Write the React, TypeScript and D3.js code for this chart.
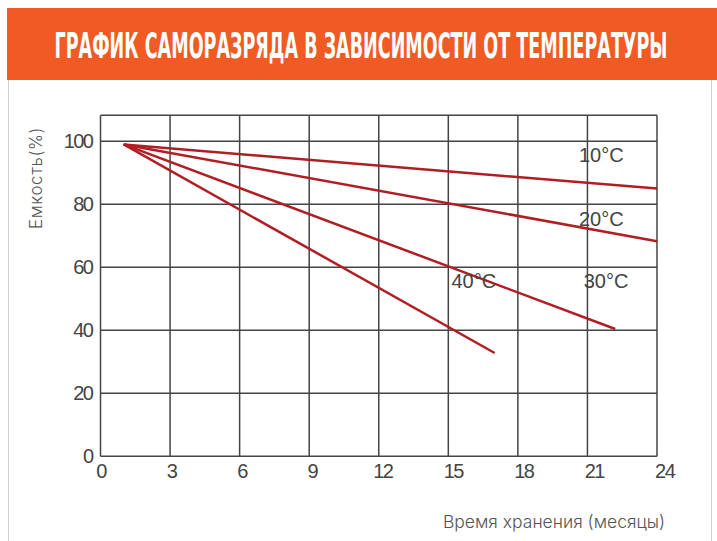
import React, { useEffect, useRef } from 'react';
import * as d3 from 'd3';

const title = 'ГРАФИК САМОРАЗРЯДА В ЗАВИСИМОСТИ ОТ ТЕМПЕРАТУРЫ';
const yTitle = 'Емкость(%)';
const xTitle = 'Время хранения (месяцы)';

const xTicks = [0, 3, 6, 9, 12, 15, 18, 21, 24];
const yTicks = [0, 20, 40, 60, 80, 100];

const series10 = [[1, 99], [24, 85]];
const series20 = [[1, 99], [24, 68.3]];
const series30 = [[1, 99], [22.2, 40.4]];
const series40 = [[1, 99], [17, 32.8]];
const allSeries = [series10, series20, series30, series40];

const seriesLabels = ['10°C', '20°C', '30°C', '40°C'];
const labelMonth = [21.6, 21.6, 21.8, 16.1];
const labelValue = [93.3, 73, 53.5, 53.5];

const App = () => {
  const chartRef = useRef();

  useEffect(() => {
    drawChart();
  }, []);

  const drawChart = () => {
    const svg = d3.select(chartRef.current);
    svg.selectAll('*').remove();

    // banner + panel
    svg.append('rect')
      .attr('x', 8.5).attr('y', 79.5)
      .attr('width', 703).attr('height', 470)
      .attr('fill', '#fff')
      .attr('stroke', '#d0d0d0');
    svg.append('rect')
      .attr('x', 7).attr('y', 8)
      .attr('width', 710).attr('height', 72)
      .attr('fill', '#f15a22');
    const t = svg.append('text')
      .attr('text-anchor', 'middle')
      .style('font-family', '"DejaVu Sans Condensed", "DejaVu Sans", sans-serif')
      .style('font-weight', 'bold')
      .style('font-size', '35px')
      .style('fill', '#fff')
      .text(title);
    // squeeze the title to the banner's width
    const natural = t.node().getComputedTextLength() || 613;
    t.attr('transform', `translate(361,58) scale(${613 / natural},1)`);

    const x = d3.scaleLinear().domain([0, 24]).range([100.5, 657]);
    const y = d3.scaleLinear().domain([0, 100]).range([456.3, 141.3]);
    const yTop = y(108.3);

    const grid = svg.append('g').attr('stroke', '#444').attr('stroke-width', 1.5);
    grid.selectAll('line.v')
      .data(xTicks)
      .enter().append('line')
      .attr('x1', d => x(d)).attr('x2', d => x(d))
      .attr('y1', yTop).attr('y2', y(0));
    grid.selectAll('line.h')
      .data(yTicks)
      .enter().append('line')
      .attr('x1', x(0)).attr('x2', x(24))
      .attr('y1', d => y(d)).attr('y2', d => y(d));
    grid.append('line')
      .attr('x1', x(0)).attr('x2', x(24))
      .attr('y1', yTop).attr('y2', yTop);

    const tickFont = 'Arial, "Liberation Sans", sans-serif';

    svg.append('g')
      .attr('transform', `translate(0,${y(0)})`)
      .call(d3.axisBottom(x).tickValues(xTicks).tickSize(0).tickPadding(8).tickFormat(d3.format('d')))
      .call(g => g.select('.domain').remove())
      .call(g => g.selectAll('text')
        .attr('dx', (d, i) => i * 0.9)
        .style('font-family', tickFont)
        .style('font-size', '20px')
        .style('letter-spacing', '-1.5px')
        .style('fill', '#444'));

    svg.append('g')
      .attr('transform', `translate(${x(0)},0)`)
      .call(d3.axisLeft(y).tickValues(yTicks).tickSize(0).tickPadding(8).tickFormat(d3.format('d')))
      .call(g => g.select('.domain').remove())
      .call(g => g.selectAll('text')
        .style('font-family', tickFont)
        .style('font-size', '20px')
        .style('letter-spacing', '-1.5px')
        .style('fill', '#444'));

    const line = d3.line().x(d => x(d[0])).y(d => y(d[1]));
    svg.selectAll('path.series')
      .data(allSeries)
      .enter().append('path')
      .attr('d', line)
      .attr('fill', 'none')
      .attr('stroke', '#b01e24')
      .attr('stroke-width', 2.5);

    svg.selectAll('text.lbl')
      .data(seriesLabels)
      .enter().append('text')
      .attr('x', (d, i) => x(labelMonth[i]))
      .attr('y', (d, i) => y(labelValue[i]))
      .attr('text-anchor', 'middle')
      .style('font-family', tickFont)
      .style('font-size', '20px')
      .style('fill', '#444')
      .text(d => d);

    svg.append('text')
      .attr('transform', 'translate(42,178) rotate(-90)')
      .attr('text-anchor', 'middle')
      .style('font-family', 'Inter, "Noto Sans", sans-serif')
      .style('font-weight', 300)
      .style('font-size', '17px')
      .style('letter-spacing', '0.6px')
      .style('fill', '#555')
      .text(yTitle);

    svg.append('text')
      .attr('x', 665).attr('y', 528)
      .attr('text-anchor', 'end')
      .style('font-family', 'Inter, "Noto Sans", sans-serif')
      .style('font-weight', 300)
      .style('font-size', '17.5px')
      .style('fill', '#555')
      .text(xTitle);
  };

  return (
    <svg ref={chartRef} width={717} height={541}
      style={{ position: 'absolute', left: 0, top: 0, background: '#fff' }} />
  );
};

export default App;
